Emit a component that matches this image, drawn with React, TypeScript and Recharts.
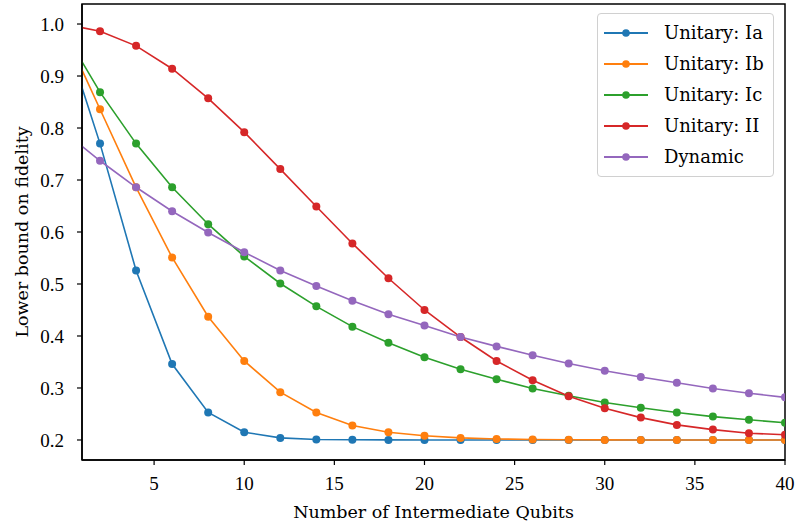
import React from 'react';
import { LineChart, Line, XAxis, YAxis, Legend, ReferenceArea, Label } from 'recharts';

const qubits = [0, 2, 4, 6, 8, 10, 12, 14, 16, 18, 20, 22, 24, 26, 28, 30, 32, 34, 36, 38, 40];
const unitaryIa = [0.985, 0.770, 0.526, 0.346, 0.253, 0.215, 0.204, 0.201, 0.2005, 0.2002, 0.2001, 0.2, 0.2, 0.2, 0.2, 0.2, 0.2, 0.2, 0.2, 0.2, 0.2];
const unitaryIb = [0.987, 0.836, 0.686, 0.551, 0.437, 0.352, 0.292, 0.253, 0.228, 0.215, 0.208, 0.204, 0.202, 0.201, 0.2005, 0.2002, 0.2001, 0.2, 0.2, 0.2, 0.2];
const unitaryIc = [0.986, 0.869, 0.770, 0.686, 0.615, 0.553, 0.501, 0.457, 0.418, 0.387, 0.359, 0.336, 0.317, 0.299, 0.285, 0.272, 0.262, 0.253, 0.245, 0.239, 0.233];
const unitaryII = [1.0, 0.986, 0.958, 0.914, 0.857, 0.792, 0.721, 0.649, 0.578, 0.511, 0.450, 0.398, 0.352, 0.315, 0.284, 0.261, 0.243, 0.229, 0.220, 0.213, 0.210];
const dynamic = [0.793, 0.737, 0.686, 0.640, 0.599, 0.561, 0.526, 0.496, 0.468, 0.442, 0.420, 0.398, 0.380, 0.363, 0.347, 0.333, 0.321, 0.310, 0.299, 0.290, 0.282];

const xTicks = [5, 10, 15, 20, 25, 30, 35, 40];
const yTicks = [0.2, 0.3, 0.4, 0.5, 0.6, 0.7, 0.8, 0.9, 1.0];
const xDomain: [number, number] = [1, 40];
const yDomain: [number, number] = [0.1615, 1.0385];

const series = [
  { key: 'ia', name: 'Unitary: Ia', color: '#1f77b4', values: unitaryIa },
  { key: 'ib', name: 'Unitary: Ib', color: '#ff7f0e', values: unitaryIb },
  { key: 'ic', name: 'Unitary: Ic', color: '#2ca02c', values: unitaryIc },
  { key: 'ii', name: 'Unitary: II', color: '#d62728', values: unitaryII },
  { key: 'dyn', name: 'Dynamic', color: '#9467bd', values: dynamic },
];

const data = qubits.map((q, i) => {
  const row: Record<string, number> = { q };
  series.forEach((s) => {
    row[s.key] = s.values[i];
  });
  return row;
});

const FONT = 'DejaVu Serif';
const TICK_FONT = 'Liberation Serif';

const renderLegend = () => (
  <div
    style={{
      border: '1px solid #d0d0d0',
      borderRadius: 4,
      background: 'rgba(255,255,255,0.85)',
      padding: '3px 0 4px 0',
      width: 177,
      boxSizing: 'border-box',
      fontFamily: FONT,
      fontSize: 18,
      color: '#000',
    }}
  >
    {series.map((s) => (
      <div key={s.key} style={{ display: 'flex', alignItems: 'center', height: 31 }}>
        <svg width={60} height={12} style={{ flex: 'none', marginLeft: 6 }}>
          <line x1={0} y1={6} x2={44} y2={6} stroke={s.color} strokeWidth={1.8} />
          <circle cx={22} cy={6} r={3.8} fill={s.color} />
        </svg>
        <span style={{ whiteSpace: 'nowrap', lineHeight: '18px' }}>{s.name}</span>
      </div>
    ))}
  </div>
);

export default function App() {
  return (
    <div style={{ position: 'absolute', left: 0, top: 0, width: 797, height: 526, background: '#fff' }}>
      <LineChart width={797} height={526} data={data} margin={{ top: 4, right: 12, left: 0, bottom: 0 }}>
        <XAxis
          dataKey="q"
          type="number"
          domain={xDomain}
          allowDataOverflow
          ticks={xTicks}
          height={66}
          tickSize={5}
          tickMargin={12}
          stroke="#000"
          axisLine={{ stroke: '#000', strokeWidth: 1.5 }}
          tickLine={{ stroke: '#000', strokeWidth: 1.2 }}
          tick={{ fontFamily: TICK_FONT, fontSize: 19, fill: '#000' }}
        >
          <Label
            content={({ viewBox }: any) => (
              <text
                x={viewBox.x + viewBox.width / 2}
                y={viewBox.y + 58}
                textAnchor="middle"
                fontFamily={FONT}
                fontSize={17.5}
                fill="#000"
              >
                Number of Intermediate Qubits
              </text>
            )}
          />
        </XAxis>
        <YAxis
          type="number"
          domain={yDomain}
          allowDataOverflow
          ticks={yTicks}
          width={82}
          tickSize={5}
          tickMargin={13}
          stroke="#000"
          axisLine={{ stroke: '#000', strokeWidth: 1.5 }}
          tickLine={{ stroke: '#000', strokeWidth: 1.2 }}
          tickFormatter={(v: number) => v.toFixed(1)}
          tick={{ fontFamily: TICK_FONT, fontSize: 19, fill: '#000' }}
        >
          <Label
            content={({ viewBox }: any) => {
              const cx = viewBox.x + 28;
              const cy = viewBox.y + viewBox.height / 2;
              return (
                <text
                  x={cx}
                  y={cy}
                  transform={`rotate(-90, ${cx}, ${cy})`}
                  textAnchor="middle"
                  fontFamily={FONT}
                  fontSize={17.5}
                  fill="#000"
                >
                  Lower bound on fidelity
                </text>
              );
            }}
          />
        </YAxis>
        <ReferenceArea
          x1={xDomain[0]}
          x2={xDomain[1]}
          y1={yDomain[0]}
          y2={yDomain[1]}
          fill="none"
          stroke="#000"
          strokeWidth={1.5}
          ifOverflow="visible"
        />
        {series.map((s) => (
          <Line
            key={s.key}
            dataKey={s.key}
            name={s.name}
            type="linear"
            stroke={s.color}
            strokeWidth={1.6}
            dot={{ r: 4, fill: s.color, stroke: s.color, strokeWidth: 0 }}
            activeDot={false}
            isAnimationActive={false}
          />
        ))}
        <Legend
          layout="vertical"
          align="center"
          verticalAlign="middle"
          content={renderLegend}
          wrapperStyle={{ position: 'absolute', left: 597, top: 13, width: 177, height: 'auto' }}
        />
      </LineChart>
    </div>
  );
}
